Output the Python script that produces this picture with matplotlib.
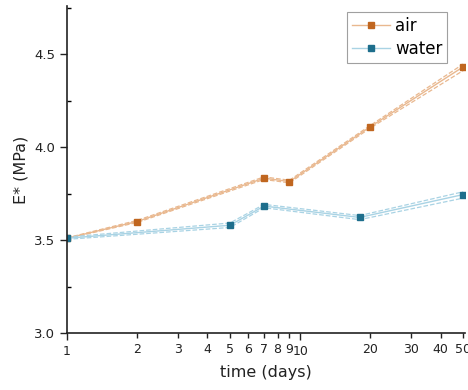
import numpy as np
import matplotlib.pyplot as plt
from matplotlib.ticker import FixedLocator, NullFormatter, FixedFormatter

# data
air_days = [1, 2, 7, 9, 20, 50]
air_E = [3.51, 3.60, 3.833, 3.815, 4.11, 4.432]
air_hi = [3.512, 3.606, 3.840, 3.822, 4.117, 4.447]
air_lo = [3.508, 3.595, 3.826, 3.808, 4.103, 4.412]

water_days = [1, 5, 7, 18, 50]
water_E = [3.51, 3.58, 3.683, 3.622, 3.745]
water_hi = [3.516, 3.592, 3.692, 3.632, 3.760]
water_lo = [3.504, 3.568, 3.674, 3.610, 3.726]

x_labels = [1, 2, 3, 4, 5, 6, 7, 8, 9, 10, 20, 30, 40, 50]

air_c = '#c0661f'
air_line = '#e9b88f'
water_c = '#1d6e8c'
water_line = '#a9d3e4'

fig = plt.figure(figsize=(4.68, 3.9), dpi=100)
ax = fig.add_axes([0.143, 0.146, 0.851, 0.839])

ax.plot(air_days, air_hi, '--', color=air_line, lw=0.9)
ax.plot(air_days, air_lo, '--', color=air_line, lw=0.9)
ax.plot(air_days, air_E, '-', color=air_line, lw=1.0, marker='s', ms=5,
        mfc=air_c, mec=air_c, label='air')

ax.plot(water_days, water_hi, '--', color=water_line, lw=0.9)
ax.plot(water_days, water_lo, '--', color=water_line, lw=0.9)
ax.plot(water_days, water_E, '-', color=water_line, lw=1.0, marker='s', ms=5,
        mfc=water_c, mec=water_c, label='water')

ax.set_xscale('log')
ax.set_xlim(1, 51)
ax.set_ylim(3.0, 4.76)

ax.xaxis.set_major_locator(FixedLocator([1, 10]))
ax.xaxis.set_minor_locator(FixedLocator([v for v in x_labels if v not in (1, 10)]))
ax.xaxis.set_major_formatter(FixedFormatter(['1', '10']))
ax.xaxis.set_minor_formatter(FixedFormatter([str(v) for v in x_labels if v not in (1, 10)]))
ax.tick_params(axis='x', which='both', labelsize=9, colors='#222222')
ax.tick_params(axis='x', which='major', length=5, width=1)
ax.tick_params(axis='x', which='minor', length=3.5, width=1)

ax.set_yticks([3.0, 3.5, 4.0, 4.5])
ax.set_yticklabels(['3.0', '3.5', '4.0', '4.5'])
ax.set_yticks([3.25, 3.75, 4.25, 4.75], minor=True)
ax.tick_params(axis='y', which='major', labelsize=9.5, length=5, width=1, colors='#222222')
ax.tick_params(axis='y', which='minor', length=3, width=1, direction='in')

for s in ['top', 'right']:
    ax.spines[s].set_visible(False)
for s in ['left', 'bottom']:
    ax.spines[s].set_linewidth(1.2)
    ax.spines[s].set_color('#222222')

ax.set_xlabel('time (days)', fontsize=11.5, color='#222222', labelpad=5)
ax.set_ylabel('E* (MPa)', fontsize=11.5, color='#222222', labelpad=4)

leg = ax.legend(loc='upper right', bbox_to_anchor=(0.955, 0.982), fontsize=12,
                frameon=True, fancybox=False, edgecolor='#888888',
                handlelength=2.3, borderpad=0.3, labelspacing=0.3, handletextpad=0.3,
                borderaxespad=0, markerscale=0.9)
leg.get_frame().set_linewidth(0.8)

fig.savefig('out.png', dpi=100)
plt.close(fig)
